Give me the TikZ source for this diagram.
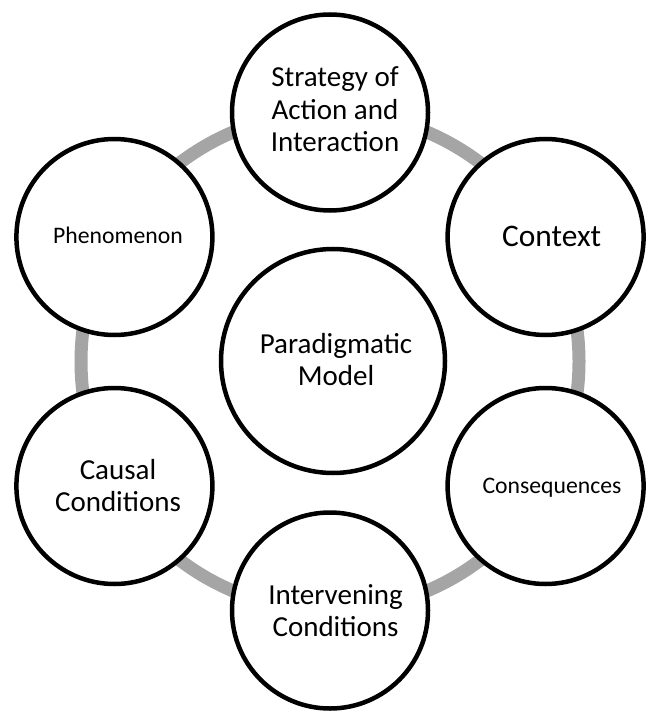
\documentclass[tikz,border=0pt]{standalone}
\usepackage{fontspec}
\setmainfont{Carlito}
\begin{document}
\begin{tikzpicture}[x=1pt,y=-1pt,
  ring/.style={draw=ringgray,line width=13pt},
  bubble/.style={circle,draw=black,fill=white,line width=4.5pt,inner sep=0pt,minimum size=196pt},
  hubbubble/.style={bubble,minimum size=224pt},
  bigtxt/.style={align=center,anchor=base,inner sep=0pt,font=\fontsize{29}{32.5}\selectfont},
  midtxt/.style={align=center,anchor=base,inner sep=0pt,font=\fontsize{23.7}{28}\selectfont},
  ctxtxt/.style={align=center,anchor=base,inner sep=0pt,font=\fontsize{31.4}{34}\selectfont}]
\definecolor{ringgray}{HTML}{A5A5A5}
\useasboundingbox (0,0) rectangle (648,711);

% grey ring through the centres of the six outer circles
\coordinate (hub) at (330,361.5);
\draw[ring] (hub) circle (249pt);

% the six outer circles and the central one
\node[bubble] (strat) at (330,112.5) {};
\node[bubble] (ctx)   at (545.6,237) {};
\node[bubble] (cons)  at (545.6,486) {};
\node[bubble] (interv) at (330,610.5) {};
\node[bubble] (causal) at (114.4,486) {};
\node[bubble] (phen)  at (114.4,237) {};
\node[hubbubble] (model) at (333,361) {};

% labels
\node[bigtxt] (strat-t) at (335,152) {Strategy of\\Action and\\Interaction};
\node[ctxtxt] (ctx-t) at (551.7,246.7) {Context};
\node[midtxt] (cons-t) at (552,493) {Consequences};
\node[bigtxt] (interv-t) at (335.5,636.7) {Intervening\\Conditions};
\node[bigtxt] (causal-t) at (118,511.7) {Causal\\Conditions};
\node[midtxt] (phen-t) at (118,243) {Phenomenon};
\node[bigtxt] (model-t) at (336,385.7) {Paradigmatic\\Model};
\end{tikzpicture}
\end{document}
